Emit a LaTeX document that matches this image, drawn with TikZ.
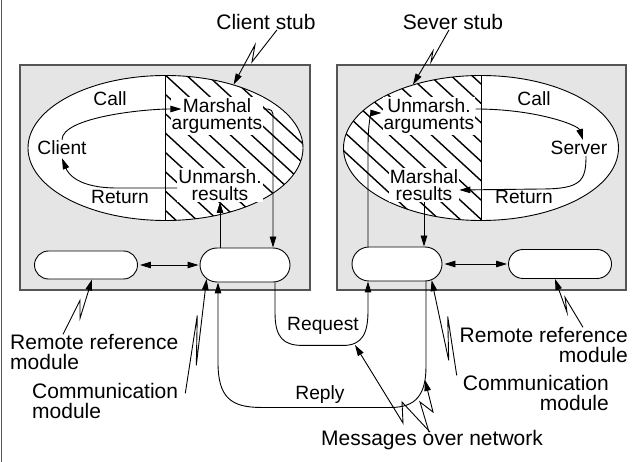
\documentclass[tikz,border=0pt]{standalone}
\usepackage{fontspec}
\setmainfont{Liberation Sans}
\usetikzlibrary{shapes.geometric,shapes.misc,arrows.meta,calc}
\definecolor{boxgray}{RGB}{229,229,229}
\definecolor{edgegray}{RGB}{85,85,85}
\begin{document}
\begin{tikzpicture}[x=1pt,y=-1pt,
  outer/.style={font=\fontsize{21}{19.5}\selectfont, inner sep=0pt},
  inlbl/.style={font=\fontsize{19.2}{17.5}\selectfont, inner sep=1pt, align=center},
  hl/.style={inlbl, fill=white},
  panel/.style={draw=edgegray, line width=1.2pt, fill=boxgray, minimum width=290pt, minimum height=225pt, inner sep=0pt},
  oval/.style={ellipse, draw, line width=0.9pt, fill=white, minimum width=275pt, minimum height=145pt, inner sep=0pt},
  module/.style={rounded rectangle, draw, line width=0.9pt, fill=white, inner sep=0pt},
  hatch/.style={line width=1.4pt},
  ln/.style={line width=0.9pt},
  arr/.style={line width=0.9pt, -{Triangle[length=11pt,width=6.5pt]}},
  darr/.style={line width=0.9pt, {Triangle[length=11pt,width=6.5pt]}-{Triangle[length=11pt,width=6.5pt]}, shorten <=2pt, shorten >=1pt}]

\useasboundingbox (0,0) rectangle (632,462);
\draw[edgegray, line width=1.2pt] (1.5,0) -- (1.5,462);

% panels
\node[panel] (lbox) at (165,177.5) {};
\node[panel, minimum width=289pt] (rbox) at (481.5,177.5) {};

% ellipses
\node[oval] (lell) at (165.5,148) {};
\node[oval] (rell) at (481,148) {};

% hatching
\begin{scope}
  \clip (165.5,148) ellipse [x radius=137.5pt, y radius=72.5pt];
  \clip (165.5,60) rectangle (310,240);
  \foreach \c in {-40,-19,...,330} \draw[hatch] (\c,60) -- ++(190,175);
\end{scope}
\begin{scope}
  \clip (481,148) ellipse [x radius=137.5pt, y radius=72.5pt];
  \clip (330,60) rectangle (481,240);
  \foreach \c in {140,161,...,510} \draw[hatch] (\c,60) -- ++(190,175);
\end{scope}
\draw[ln] (lell.north) -- (lell.south);
\draw[ln] (rell.north) -- (rell.south);

% modules
\node[module, minimum width=103pt, minimum height=28pt] (rrm1) at (86,265) {};
\node[module, minimum width=90pt, minimum height=34pt] (cm1) at (245,265) {};
\node[module, minimum width=90pt, minimum height=34pt] (cm2) at (397,264) {};
\node[module, minimum width=103pt, minimum height=29pt] (rrm2) at (560,264) {};

% labels inside ellipses
\node[inlbl] (call1) at (110,99) {Call};
\node[inlbl] (client) at (62,148) {Client};
\node[inlbl] (ret1) at (120,197) {Return};
\node[hl] (marsh1) at (217,116) {Marshal\\arguments};
\node[hl] (unm1) at (220,185) {Unmarsh.\\results};
\node[hl] (unm2) at (429,116) {Unmarsh.\\arguments};
\node[inlbl] (call2) at (534,99) {Call};
\node[inlbl] (server) at (579,148) {Server};
\node[hl] (marsh2) at (424,185) {Marshal\\results};
\node[inlbl] (ret2) at (524,197) {Return};

% outer labels
\node[outer] (cstub) at (266,22) {Client stub};
\node[outer] (sstub) at (453,22) {Sever stub};
\node[outer, align=left, anchor=west] (rrt1) at (10,352) {Remote reference\\module};
\node[outer, align=left, anchor=west] (cmt1) at (32,401) {Communication\\module};
\node[outer, align=right, anchor=east] (rrt2) at (628,345) {Remote reference\\module};
\node[outer, align=right, anchor=east] (cmt2) at (609,393) {Communication\\module};
\node[outer] (msg) at (432,440) {Messages over network};
\node[inlbl] (req) at (323,326) {Request};
\node[inlbl] (rep) at (320,395) {Reply};

% client side arrows
\draw[arr] (client.north) .. controls +(0,-22) and +(-40,0) .. ([xshift=11pt,yshift=7pt]marsh1.west);
\draw[arr] ([yshift=-3pt]unm1.west) -- ++(-60,0) .. controls +(-40,0) and +(6,15) .. ([yshift=-2pt]client.south);
\draw[arr, rounded corners=5pt] ([yshift=7pt]marsh1.east) -| ([xshift=28pt]cm1.north);
\draw[arr] (unm1.south |- cm1.north) -- (unm1.south);

% server side arrows
\draw[arr] ([yshift=7pt]unm2.east) .. controls +(60,0) and +(-5,-15) .. ([xshift=4pt]server.north);
\draw[arr] ([xshift=7pt]server.south) .. controls +(0,25) and +(40,0) .. ++(-45,33) -- ([yshift=-5pt]marsh2.east);
\draw[arr] ([xshift=-29pt]cm2.north) -- ++(0,-100) .. controls +(0,-25) and +(-10,0) .. ([xshift=-1pt,yshift=3pt]unm2.west);
\draw[arr] (marsh2.south) -- (marsh2.south |- cm2.north);

% module links
\draw[darr] (rrm1.east) -- (cm1.west);
\draw[darr] (cm2.east) -- (rrm2.west);

% request / reply
\draw[arr] ([xshift=30pt]cm1.south) -- ++(0,30) .. controls +(0,25) and +(-20,0) .. ++(28,33) -- ++(40,0) .. controls +(20,0) and +(0,22) .. ++(25,-35) -- ([xshift=-29pt]cm2.south);
\draw[arr] ([xshift=29pt]cm2.south) -- ++(0,85) .. controls +(0,28) and +(25,0) .. ++(-35,41) -- ++(-130,0) .. controls +(-30,0) and +(0,35) .. ++(-43,-45) -- ([xshift=-27pt]cm1.south);

% leader points on the message lines
\coordinate (qpt) at (355,345);
\coordinate (rpt) at (425,380);

% lightning leaders
\draw[arr] ([xshift=11pt]cstub.south) -- ++(-25,32) -- ++(3,-17) -- (lell.43);
\draw[arr] ([xshift=-4pt]sstub.south) -- ++(-18,32) -- ++(2,-11) -- (rell.137);
\draw[arr] ([xshift=53pt]rrt1.north west) -- ++(17,-34) -- ++(0,18) -- ([xshift=6pt]rrm1.south);
\draw[arr] ($(cmt1.north east)+(7,10)$) -- ++(12,-78) -- ++(-1,50) -- (cm1.200);
\draw[arr] ([xshift=-45pt]rrt2.north east) -- ++(-18,-30) -- ++(2,15) -- ([xshift=-5pt]rrm2.south);
\draw[arr] ([xshift=-6pt]cmt2.north west) -- ++(-9,-59) -- ++(1,44) -- (cm2.335);
\draw[arr] ([xshift=-2pt,yshift=-2pt]msg.north) -- ++(-28,-30) -- ++(1,21) -- (qpt);
\draw[arr] ([xshift=-3pt,yshift=-2pt]msg.north) -- ++(-9,-30) -- ++(13,10) -- (rpt);
\end{tikzpicture}
\end{document}
